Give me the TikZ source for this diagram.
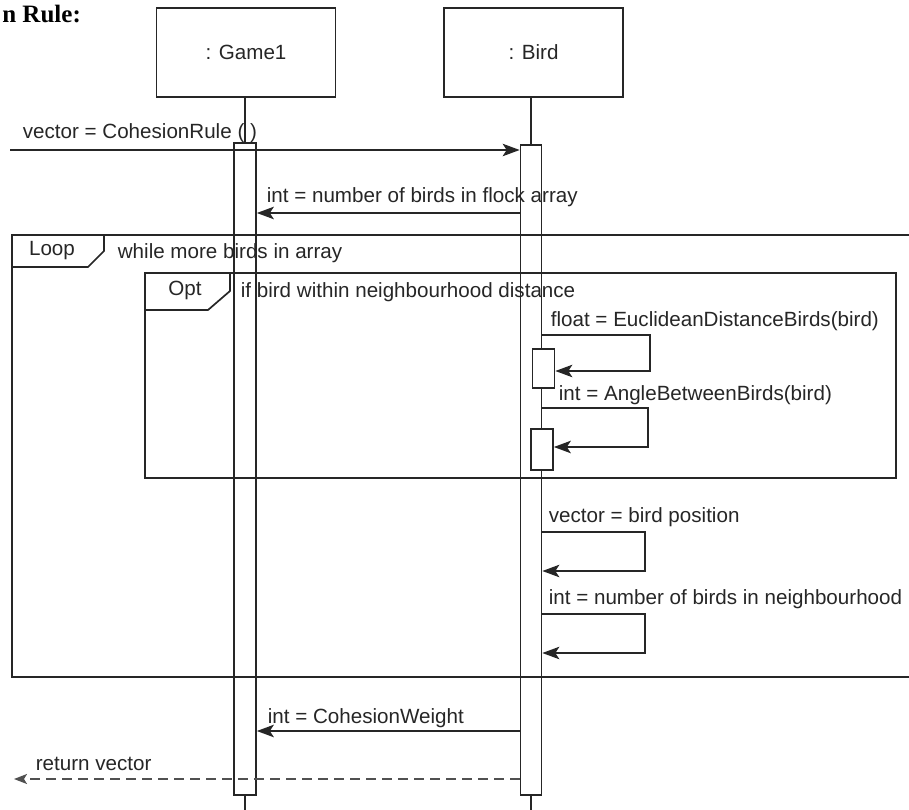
\documentclass[tikz,border=0pt]{standalone}
\usepackage{fontspec}
\setmainfont{Liberation Sans}
\newfontfamily\headfont{Liberation Serif}
\usetikzlibrary{arrows.meta}
\definecolor{ink}{HTML}{262626}
\definecolor{dashink}{HTML}{505050}
\begin{document}
\begin{tikzpicture}[x=1pt,y=-1pt,
  every node/.style={font=\fontsize{20.6}{24}\selectfont, text=ink, inner sep=0pt},
  line width=1.7pt,
  obj/.style={draw=ink, line width=1.7pt, minimum width=179pt, minimum height=89pt},
  bar/.style={draw=ink, line width=1.7pt},
  nested/.style={draw=ink, fill=white, line width=1.7pt, minimum width=22pt},
  life/.style={draw=ink, line width=1.7pt},
  msg/.style={draw=ink, line width=1.6pt, -{Stealth[length=17pt,width=12.5pt,inset=4pt]}},
  ret/.style={draw=dashink, line width=1.6pt, dash pattern=on 10pt off 6pt,
              -{Stealth[length=13pt,width=10pt,inset=3pt]}},
  frame/.style={draw=ink, line width=1.7pt},
  lbl/.style={anchor=base west}
]
\useasboundingbox (0,0) rectangle (909,810);

% heading
\node[anchor=base west, font=\headfont\bfseries\fontsize{25}{28}\selectfont, text=black] (title) at (1.5,23) {n Rule:};

% object boxes
\node[obj] (g) at (246,52.5) {: Game1};
\node[obj] (b) at (533.5,52.5) {: Bird};

% activation bars
\node[bar, minimum width=22pt, minimum height=652pt] (ga) at (245,469) {};
\node[bar, minimum width=21pt, minimum height=650pt] (ba) at (531,470) {};

% lifelines
\coordinate (gend) at (245,812);
\coordinate (bend) at (531,812);
\draw[life] (g.south -| ga) -- (ga.north);
\draw[life] (ga.south) -- (gend);
\draw[life] (b.south -| ba) -- (ba.north);
\draw[life] (ba.south) -- (bend);

% combined fragments
\draw[frame] (910,235) -- (12,235) -- (12,677) -- (910,677);
\draw[frame] (12,267) -- (88,267) -- (104,251) -- (104,235);
\node (loopname) at (52,251) {Loop};
\node[lbl] (loopguard) at (117,258) {while more birds in array};

\draw[frame] (145,273) rectangle (896,478);
\draw[frame] (145,310) -- (208,310) -- (230,291) -- (230,273);
\node (optname) at (185,290) {Opt};
\node[lbl] (optguard) at (240,297) {if bird within neighbourhood distance};

% nested activations of the self calls
\node[nested, minimum height=39pt] (na1) at (543.5,368.5) {};
\node[nested, minimum height=41pt] (na2) at (542,449.5) {};

% incoming call
\coordinate (start) at (10,150);
\draw[msg] (start) -- (ba.west |- start);
\node[lbl] (l1) at (22,139) {vector = CohesionRule ( )};

% reply with flock size
\coordinate (r1) at (0,213);
\draw[msg] (ba.west |- r1) -- (ga.east |- r1);
\node[lbl] (l2) at (266,203) {int = number of birds in flock array};

% self call: distance
\coordinate (s1a) at (650,335);
\coordinate (s1b) at (650,371);
\draw[msg] (ba.east |- s1a) -- (s1a) -- (s1b) -- (na1.east |- s1b);
\node[lbl] (l3) at (550,326) {float = EuclideanDistanceBirds(bird)};

% self call: angle
\coordinate (s2a) at (648,408);
\coordinate (s2b) at (648,447);
\draw[msg] (ba.east |- s2a) -- (s2a) -- (s2b) -- (na2.east |- s2b);
\node[lbl] (l4) at (558,400) {int = AngleBetweenBirds(bird)};

% self call: position
\coordinate (s3a) at (645,532);
\coordinate (s3b) at (645,571);
\draw[msg] (ba.east |- s3a) -- (s3a) -- (s3b) -- (ba.east |- s3b);
\node[lbl] (l5) at (548,522) {vector = bird position};

% self call: neighbour count
\coordinate (s4a) at (645,614);
\coordinate (s4b) at (645,653);
\draw[msg] (ba.east |- s4a) -- (s4a) -- (s4b) -- (ba.east |- s4b);
\node[lbl] (l6) at (548,604) {int = number of birds in neighbourhood};

% weight request
\coordinate (r2) at (0,731);
\draw[msg] (ba.west |- r2) -- (ga.east |- r2);
\node[lbl] (l7) at (267,723) {int = CohesionWeight};

% return to caller
\coordinate (out) at (14,779);
\draw[ret] (ba.west |- out) -- (out);
\node[lbl] (l8) at (35,770) {return vector};
\end{tikzpicture}
\end{document}
